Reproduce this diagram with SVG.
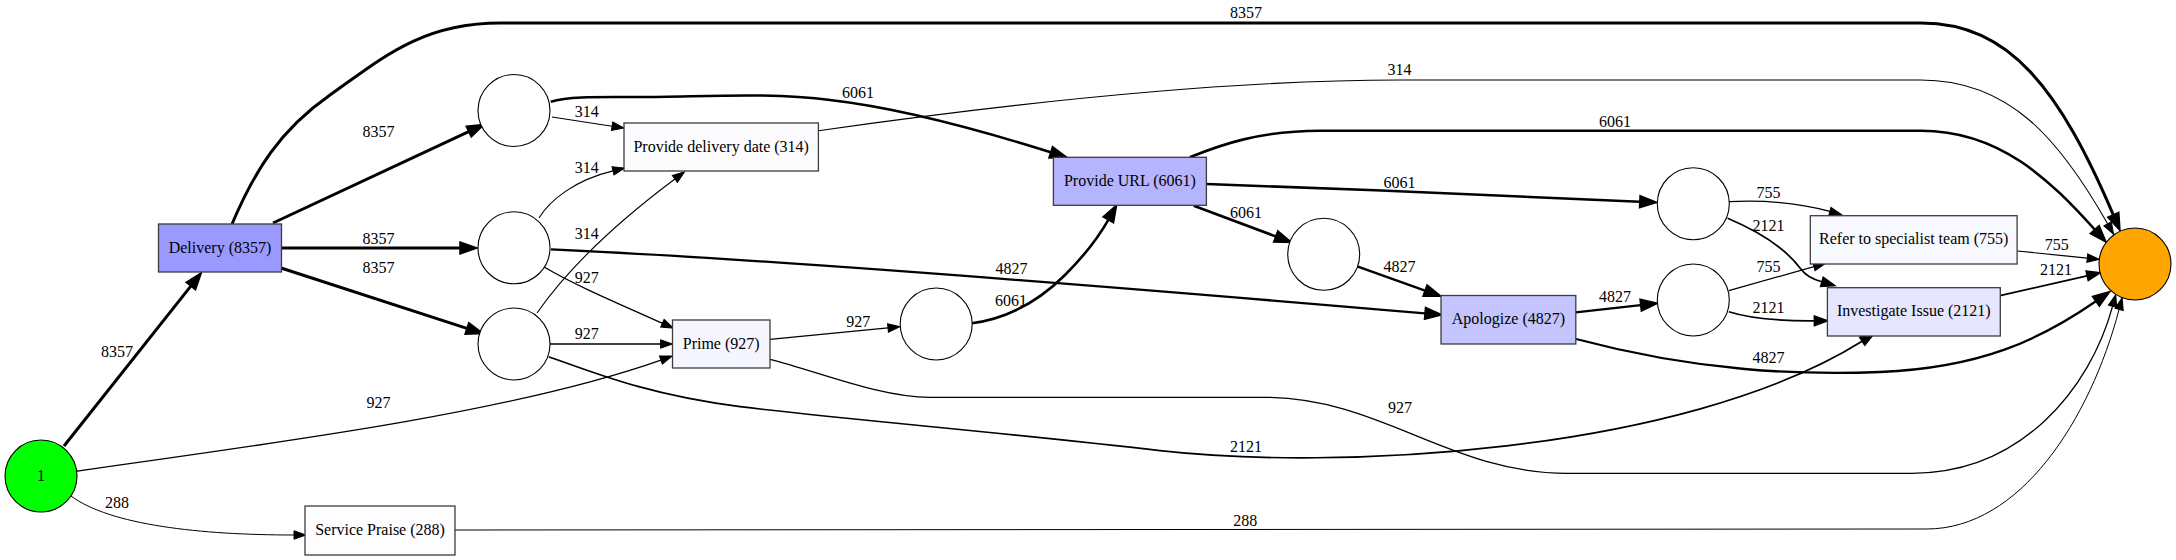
<svg xmlns="http://www.w3.org/2000/svg" width="2176" height="560" viewBox="0 0 2176 560">
<style>
.e{fill:none;stroke:#000}
.t{font-family:"Liberation Serif","Times New Roman",serif;font-size:16px;text-anchor:middle;fill:#000}
.box{stroke:#3c3c3c;stroke-width:1.3}
.pl{fill:#fff;stroke:#000;stroke-width:1.1}
</style>
<defs>
<marker id="a1" markerUnits="userSpaceOnUse" markerWidth="12" markerHeight="9" refX="0" refY="4.25" orient="auto" overflow="visible"><path d="M0,0 L12,4.25 L0,8.5 z" fill="#000" stroke="#000" stroke-width="1"/></marker>
<marker id="a2" markerUnits="userSpaceOnUse" markerWidth="14" markerHeight="10" refX="0" refY="5" orient="auto" overflow="visible"><path d="M0,0 L14,5 L0,10 z" fill="#000" stroke="#000" stroke-width="1.2"/></marker>
<marker id="a3" markerUnits="userSpaceOnUse" markerWidth="17" markerHeight="12" refX="0" refY="6" orient="auto" overflow="visible"><path d="M0,0 L17,6 L0,12 z" fill="#000" stroke="#000" stroke-width="1.5"/></marker>
</defs>
<rect width="2176" height="560" fill="#fff"/>
<g id="connectors">
<path class="e" stroke-width="3" marker-end="url(#a3)" d="M64,446 L190.8,286.1"/>
<text class="t" x="117" y="357">8357</text>
<path class="e" stroke-width="1.3" marker-end="url(#a1)" d="M77,471 C300,440 520,410 660.9,360.1"/>
<text class="t" x="378.5" y="408">927</text>
<path class="e" stroke-width="1" marker-end="url(#a1)" d="M71,496 C110,525 200,535 294,535"/>
<text class="t" x="117" y="507.5">288</text>
<path class="e" stroke-width="3" marker-end="url(#a3)" d="M232,224 C255,170 280,130 330,95 C380,60 420,23 500,23 L1921,23 C2010,23 2060,90 2113.3,214.8"/>
<text class="t" x="1246" y="18">8357</text>
<path class="e" stroke-width="3" marker-end="url(#a3)" d="M273,223 L468.7,131.6"/>
<text class="t" x="378.5" y="137">8357</text>
<path class="e" stroke-width="3" marker-end="url(#a3)" d="M281,248 L460,248"/>
<text class="t" x="378.5" y="243.5">8357</text>
<path class="e" stroke-width="3" marker-end="url(#a3)" d="M281,268 L466.9,328.4"/>
<text class="t" x="378.5" y="273">8357</text>
<path class="e" stroke-width="1.1" marker-end="url(#a1)" d="M552,117 L612.1,126.2"/>
<text class="t" x="586.7" y="117">314</text>
<path class="e" stroke-width="2.6" marker-end="url(#a3)" d="M550.7,101.7 C570,96 600,97 640,97 C700,97 770,92 830,100 C900,108 980,130 1050.7,152.3"/>
<text class="t" x="858" y="97.5">6061</text>
<path class="e" stroke-width="1.1" marker-end="url(#a1)" d="M539,218 C550,200 575,180 613,170.9"/>
<text class="t" x="586.7" y="173">314</text>
<path class="e" stroke-width="1.1" marker-end="url(#a1)" d="M537,313 C560,280 600,235 674.9,179"/>
<text class="t" x="586.7" y="238.5">314</text>
<path class="e" stroke-width="1.3" marker-end="url(#a1)" d="M543.6,266.7 C575,285 610,300 662.4,323.2"/>
<text class="t" x="586.7" y="282.5">927</text>
<path class="e" stroke-width="1.3" marker-end="url(#a1)" d="M550,344 L660.5,344"/>
<text class="t" x="586.7" y="339">927</text>
<path class="e" stroke-width="2.3" marker-end="url(#a3)" d="M551,249.3 C700,256 1000,277 1425,313.4"/>
<text class="t" x="1011.4" y="274">4827</text>
<path class="e" stroke-width="1.7" marker-end="url(#a2)" d="M548.7,356.7 C600,375 650,395 740,406.7 C850,420 1000,432 1160,450.7 C1330,470 1680,455 1862.1,341.3"/>
<text class="t" x="1246" y="451.5">2121</text>
<path class="e" stroke-width="1.3" marker-end="url(#a1)" d="M770,339.3 L888,327.9"/>
<text class="t" x="858.3" y="326.5">927</text>
<path class="e" stroke-width="1.3" marker-end="url(#a1)" d="M770,359.3 C820,372 880,397.3 930,397.3 L1265,397.3 C1380,397.3 1450,473.3 1567,473.3 L1912,473.3 C2020,473.3 2090,390 2112.6,306.2"/>
<text class="t" x="1400" y="413">927</text>
<path class="e" stroke-width="2.6" marker-end="url(#a3)" d="M971.8,323.3 C1010,318 1040,300 1065,275 C1085,255 1098,238 1108.3,219.8"/>
<text class="t" x="1011" y="306">6061</text>
<path class="e" stroke-width="1.1" marker-end="url(#a1)" d="M818.4,130.7 C950,112 1200,80 1400,80 L1921,80 C2010,80 2060,140 2107.6,223.8"/>
<text class="t" x="1399.4" y="75">314</text>
<path class="e" stroke-width="2.6" marker-end="url(#a3)" d="M1189.8,157.3 C1220,145 1260,130.7 1320,130.7 L1921,130.7 C2000,130.7 2050,180 2094.7,229.5"/>
<text class="t" x="1615" y="126.5">6061</text>
<path class="e" stroke-width="2.6" marker-end="url(#a3)" d="M1206.4,184 C1350,189 1500,195 1639.8,201.7"/>
<text class="t" x="1399.4" y="187.5">6061</text>
<path class="e" stroke-width="2.6" marker-end="url(#a3)" d="M1193.8,205.7 L1275.7,236.4"/>
<text class="t" x="1246" y="217.5">6061</text>
<path class="e" stroke-width="2.3" marker-end="url(#a3)" d="M1357.9,266.7 L1425,290.6"/>
<text class="t" x="1399.4" y="271.5">4827</text>
<path class="e" stroke-width="2.3" marker-end="url(#a3)" d="M1575.7,312.3 L1640.7,305.1"/>
<text class="t" x="1615" y="302">4827</text>
<path class="e" stroke-width="2.3" marker-end="url(#a3)" d="M1576,339 C1700,372 1800,375 1880,372 C1980,368 2040,340 2095.9,301.3"/>
<text class="t" x="1768.4" y="363">4827</text>
<path class="e" stroke-width="1.2" marker-end="url(#a1)" d="M1728.8,201.7 C1760,200 1795,202 1829.9,211.4"/>
<text class="t" x="1768.4" y="198">755</text>
<path class="e" stroke-width="1.7" marker-end="url(#a2)" d="M1727.6,218.3 C1760,232 1785,248 1800,268 C1806,276 1812,279 1821.8,281.8"/>
<text class="t" x="1768.4" y="230.5">2121</text>
<path class="e" stroke-width="1.2" marker-end="url(#a1)" d="M1728.8,290.7 L1813.9,266.6"/>
<text class="t" x="1768.4" y="271.5">755</text>
<path class="e" stroke-width="1.7" marker-end="url(#a2)" d="M1728.8,311.7 C1755,320 1785,321 1814.2,320.8"/>
<text class="t" x="1768.4" y="313">2121</text>
<path class="e" stroke-width="1.2" marker-end="url(#a1)" d="M2017.3,251 L2087.3,258.1"/>
<text class="t" x="2056.7" y="250">755</text>
<path class="e" stroke-width="1.7" marker-end="url(#a2)" d="M2000,295.7 L2087,275.8"/>
<text class="t" x="2056" y="275">2121</text>
<path class="e" stroke-width="1" marker-end="url(#a1)" d="M455,530 L1926.7,529 C2020,529 2090,420 2119.1,309.4"/>
<text class="t" x="1245.3" y="526">288</text>
</g>
<g id="start"><circle cx="41" cy="476" r="36" fill="#00ff00" stroke="#000" stroke-width="1.1"/><text class="t" x="41" y="481">1</text></g>
<g id="end"><circle cx="2135" cy="264" r="36" fill="#ffa500" stroke="#000" stroke-width="1.1"/></g>
<g id="p1"><circle class="pl" cx="514" cy="110.5" r="36"/></g>
<g id="p2"><circle class="pl" cx="514" cy="247.8" r="36"/></g>
<g id="p3"><circle class="pl" cx="514" cy="344" r="36"/></g>
<g id="p4"><circle class="pl" cx="936.2" cy="324" r="36"/></g>
<g id="p5"><circle class="pl" cx="1323.7" cy="254.3" r="36"/></g>
<g id="p6"><circle class="pl" cx="1693.3" cy="203.7" r="36"/></g>
<g id="p7"><circle class="pl" cx="1693.3" cy="300" r="36"/></g>
<g id="delivery"><rect class="box" x="158.5" y="224" width="123" height="48" fill="#9999ff"/><text class="t" x="220" y="252.5">Delivery (8357)</text></g>
<g id="service-praise"><rect class="box" x="305" y="506" width="150" height="49" fill="#fdfdff"/><text class="t" x="380" y="535">Service Praise (288)</text></g>
<g id="provide-delivery-date"><rect class="box" x="624" y="123" width="194.4" height="48" fill="#fcfcff"/><text class="t" x="721.2" y="151.5">Provide delivery date (314)</text></g>
<g id="prime"><rect class="box" x="672.5" y="320" width="97.5" height="48" fill="#f5f5ff"/><text class="t" x="721.2" y="348.5">Prime (927)</text></g>
<g id="provide-url"><rect class="box" x="1053.4" y="157.3" width="153" height="48" fill="#b5b5ff"/><text class="t" x="1129.9" y="185.8">Provide URL (6061)</text></g>
<g id="apologize"><rect class="box" x="1441" y="295.5" width="134.8" height="48.5" fill="#c4c4ff"/><text class="t" x="1508.4" y="324.2">Apologize (4827)</text></g>
<g id="refer"><rect class="box" x="1810.3" y="215.7" width="206.8" height="48.3" fill="#f8f8ff"/><text class="t" x="1913.7" y="244.3">Refer to specialist team (755)</text></g>
<g id="investigate"><rect class="box" x="1827.4" y="287.7" width="172.9" height="48.3" fill="#e6e6ff"/><text class="t" x="1913.8" y="316.3">Investigate Issue (2121)</text></g>
</svg>
